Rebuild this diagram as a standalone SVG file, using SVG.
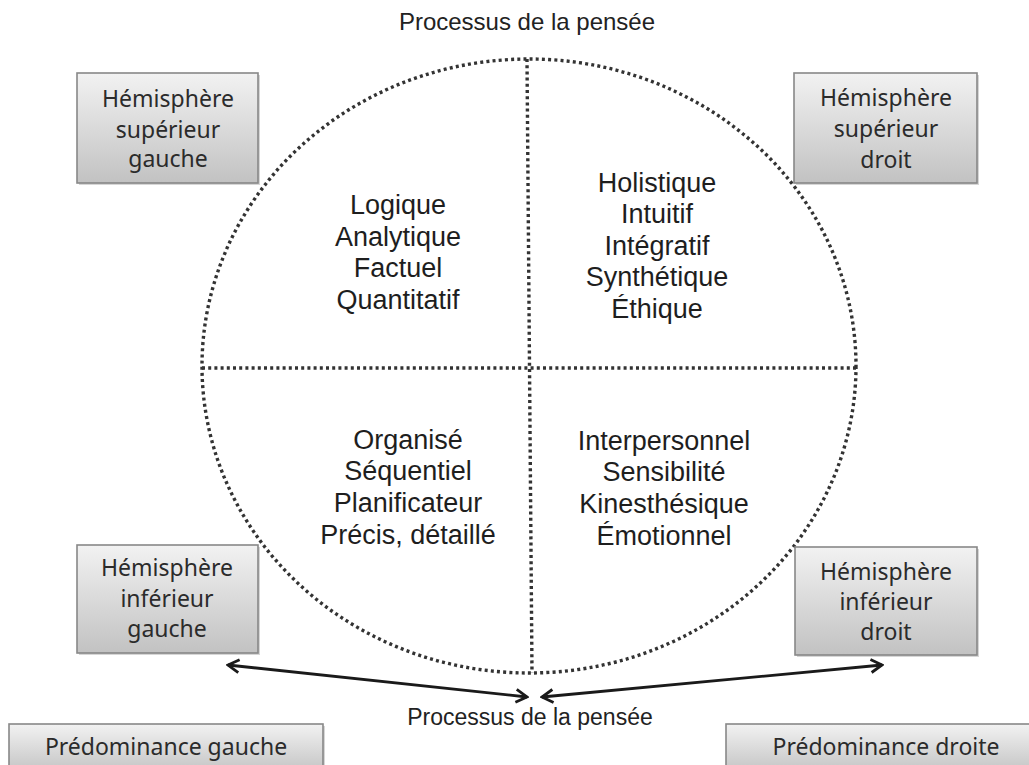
<svg xmlns="http://www.w3.org/2000/svg" width="1029" height="765" viewBox="0 0 1029 765">
  <defs>
    <linearGradient id="boxFill" x1="0" y1="0" x2="0" y2="1">
      <stop offset="0" stop-color="#f2f2f2"/>
      <stop offset="1" stop-color="#c2c2c2"/>
    </linearGradient>
    <marker id="head" viewBox="0 0 16 16" refX="14" refY="8" markerWidth="16" markerHeight="16" markerUnits="userSpaceOnUse" orient="auto-start-reverse">
      <path d="M3,1.5 L14,8 L3,14.5" fill="none" stroke="#1a1a1a" stroke-width="2.8" stroke-linejoin="miter"/>
    </marker>
    <style>
      .box { fill: url(#boxFill); stroke: #888888; stroke-width: 1.6; }
      .shadow { fill: #d6d6d6; }
      .boxText { font-family: "Noto Sans", "Open Sans", sans-serif; font-size: 23px; fill: #2b2b2b; text-anchor: middle; }
      .quad { font-family: "Liberation Sans", Arial, sans-serif; font-size: 27px; fill: #1e1e1e; text-anchor: middle; }
      .title { font-family: "Liberation Sans", Arial, sans-serif; font-size: 24px; fill: #222; text-anchor: middle; }
      .dots { fill: none; stroke: #333333; stroke-width: 3.4; stroke-dasharray: 3 3.2; }
      .arrow { fill: none; stroke: #1a1a1a; stroke-width: 2.8; marker-start: url(#head); marker-end: url(#head); }
    </style>
  </defs>

  <rect width="1029" height="765" fill="#ffffff"/>

  <!-- title -->
  <text class="title" x="527" y="30">Processus de la pensée</text>

  <!-- thinking circle with quadrant dividers -->
  <g id="circle">
    <ellipse class="dots" cx="529" cy="366" rx="327" ry="307"/>
    <line class="dots" x1="527" y1="59" x2="532" y2="673"/>
    <line class="dots" x1="202" y1="368" x2="856" y2="368"/>
  </g>

  <g id="quad-top-left">
    <text class="quad" x="398" y="214">Logique</text>
    <text class="quad" x="398" y="246">Analytique</text>
    <text class="quad" x="398" y="277">Factuel</text>
    <text class="quad" x="398" y="309">Quantitatif</text>
  </g>
  <g id="quad-top-right">
    <text class="quad" x="657" y="192">Holistique</text>
    <text class="quad" x="657" y="223">Intuitif</text>
    <text class="quad" x="657" y="255">Intégratif</text>
    <text class="quad" x="657" y="286">Synthétique</text>
    <text class="quad" x="657" y="318">Éthique</text>
  </g>
  <g id="quad-bottom-left">
    <text class="quad" x="408" y="449">Organisé</text>
    <text class="quad" x="408" y="480">Séquentiel</text>
    <text class="quad" x="408" y="512">Planificateur</text>
    <text class="quad" x="408" y="544">Précis, détaillé</text>
  </g>
  <g id="quad-bottom-right">
    <text class="quad" x="664" y="450">Interpersonnel</text>
    <text class="quad" x="664" y="481">Sensibilité</text>
    <text class="quad" x="664" y="513">Kinesthésique</text>
    <text class="quad" x="664" y="545">Émotionnel</text>
  </g>

  <!-- hemisphere boxes -->
  <g id="box-upper-left">
    <rect class="shadow" x="79" y="75" width="181" height="110"/>
    <rect class="box" x="77" y="73" width="181" height="110"/>
    <text class="boxText" x="168" y="107">Hémisphère</text>
    <text class="boxText" x="168" y="138">supérieur</text>
    <text class="boxText" x="168" y="167">gauche</text>
  </g>
  <g id="box-upper-right">
    <rect class="shadow" x="796" y="75" width="183" height="110"/>
    <rect class="box" x="794" y="73" width="183" height="110"/>
    <text class="boxText" x="886" y="106">Hémisphère</text>
    <text class="boxText" x="886" y="137">supérieur</text>
    <text class="boxText" x="886" y="168">droit</text>
  </g>
  <g id="box-lower-left">
    <rect class="shadow" x="79" y="547" width="181" height="108"/>
    <rect class="box" x="77" y="545" width="181" height="108"/>
    <text class="boxText" x="167" y="576">Hémisphère</text>
    <text class="boxText" x="167" y="607">inférieur</text>
    <text class="boxText" x="167" y="637">gauche</text>
  </g>
  <g id="box-lower-right">
    <rect class="shadow" x="797" y="549" width="182" height="108"/>
    <rect class="box" x="795" y="547" width="182" height="108"/>
    <text class="boxText" x="886" y="580">Hémisphère</text>
    <text class="boxText" x="886" y="610">inférieur</text>
    <text class="boxText" x="886" y="640">droit</text>
  </g>

  <!-- dominance boxes -->
  <g id="box-left-dominance">
    <rect class="shadow" x="11" y="726" width="314" height="50"/>
    <rect class="box" x="9" y="724" width="314" height="50"/>
    <text class="boxText" x="166" y="755">Prédominance gauche</text>
  </g>
  <g id="box-right-dominance">
    <rect class="shadow" x="728" y="726" width="320" height="50"/>
    <rect class="box" x="726" y="724" width="320" height="50"/>
    <text class="boxText" x="886" y="755">Prédominance droite</text>
  </g>

  <!-- connectors -->
  <g id="connectors">
    <line class="arrow" x1="527" y1="697" x2="228" y2="665"/>
    <line class="arrow" x1="542" y1="697" x2="882" y2="665"/>
  </g>

  <text class="title" x="530" y="725" style="font-size:23px">Processus de la pensée</text>
</svg>
